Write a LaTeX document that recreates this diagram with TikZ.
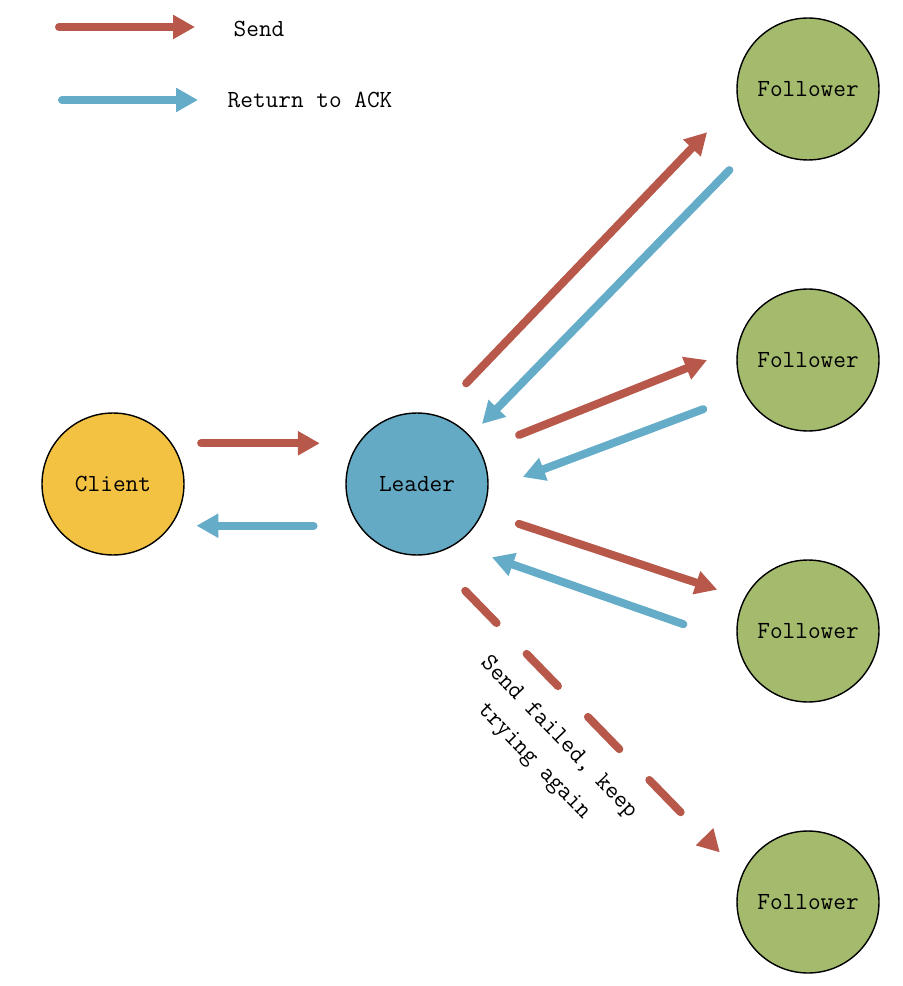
\documentclass[tikz,border=0pt]{standalone}
\usepackage{tikz}
\usetikzlibrary{arrows.meta}
\definecolor{sendred}{RGB}{183,88,75}
\definecolor{ackblue}{RGB}{100,172,200}
\definecolor{clientyellow}{RGB}{244,194,66}
\definecolor{leaderblue}{RGB}{100,170,196}
\definecolor{followergreen}{RGB}{164,186,108}

\begin{document}
\begin{tikzpicture}[x=0.02cm,y=-0.02cm,
  texto/.style={font=\ttfamily\fontsize{14}{19.7}\selectfont},
  nodo/.style={circle,draw=black,line width=0.8pt,minimum size=2.84cm,
    inner sep=0pt,outer sep=0pt,texto},
  send/.style={draw=sendred,line width=0.16cm,line cap=round,
    -{Triangle[length=0.44cm,width=0.46cm]}},
  ack/.style={send,draw=ackblue}]

  % Marco de la figura
  \useasboundingbox (0,0) rectangle (902,986);

  % Leyenda
  \coordinate (ls0) at (59,27);
  \coordinate (ls1) at (195,27);
  \coordinate (la0) at (62,100);
  \coordinate (la1) at (198,100);
  \draw[send] (ls0) -- (ls1);
  \draw[ack] (la0) -- (la1);
  \node[texto] (sendtxt) at (259,29) {Send};
  \node[texto] (acktxt) at (310,100) {Return to ACK};

  % Nodos
  \node[nodo,fill=clientyellow] (client) at (113,484) {Client};
  \node[nodo,fill=leaderblue] (leader) at (417,484) {Leader};
  \node[nodo,fill=followergreen] (f1) at (808,89) {Follower};
  \node[nodo,fill=followergreen] (f2) at (808,360) {Follower};
  \node[nodo,fill=followergreen] (f3) at (808,631) {Follower};
  \node[nodo,fill=followergreen] (f4) at (808,902) {Follower};

  % Client <-> Leader
  \draw[send,shorten <=0.6cm,shorten >=0.78cm] (client.35) -- (leader.145);
  \draw[ack,shorten <=0.92cm,shorten >=0.52cm] (leader.216) -- (client.-36);

  % Leader <-> Followers
  \draw[send,shorten <=0.89cm,shorten >=0.89cm] (leader.75) -- (f1.189);
  \draw[ack,shorten <=0.84cm,shorten >=0.35cm] (f1.226) -- (leader.42);
  \draw[send,shorten <=0.85cm,shorten >=0.67cm] (leader.28) -- (f2.170);
  \draw[ack,shorten <=0.9cm,shorten >=0.75cm] (f2.208) -- (leader.-5);
  \draw[send,shorten <=0.77cm,shorten >=0.58cm] (leader.-23) -- (f3.153);
  \draw[ack,shorten <=1.16cm,shorten >=0.79cm] (f3.190) -- (leader.-58);

  % Envio fallido
  \draw[send,dash pattern=on 0.9cm off 0.86cm,shorten <=1.03cm,shorten >=0.64cm]
    (leader.-80) -- (f4.158);
  \node[texto,rotate=-46,align=center] (fallo) at (546,750)
    {Send failed, keep\\trying again};

\end{tikzpicture}
\end{document}
